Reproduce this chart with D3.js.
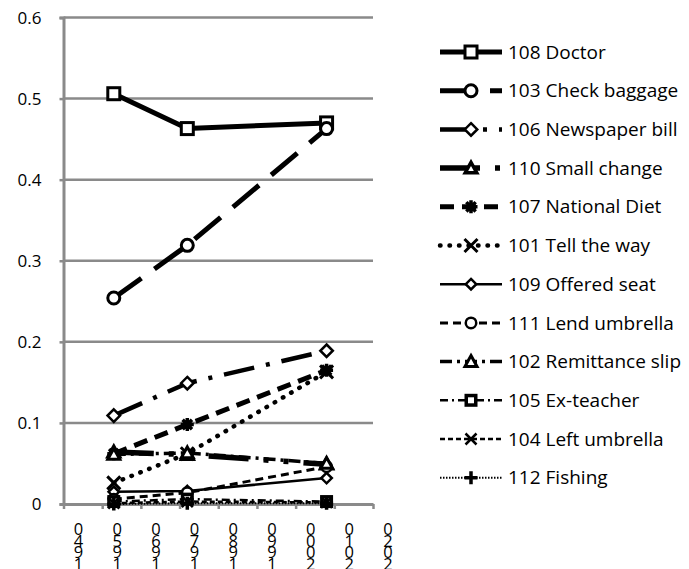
<!DOCTYPE html>
<html>
<head>
<meta charset="utf-8">
<script src="https://cdn.jsdelivr.net/npm/d3@7"></script>
<style>
  html, body { margin: 0; padding: 0; background: #fff; }
  svg { display: block; }
  text { font-family: "Open Sans", "Lato", sans-serif; fill: #000; }
  .year-label { writing-mode: vertical-rl; text-orientation: upright; }
</style>
</head>
<body>
<svg id="chart" width="689" height="569"></svg>
<script>
// Survey years and axis ticks
const years = [1953, 1972, 2008];
const xTickYears = [1940, 1950, 1960, 1970, 1980, 1990, 2000, 2010, 2020];
const yTicks = [0, 0.1, 0.2, 0.3, 0.4, 0.5, 0.6];

// Series labels (legend order = drawing order)
const seriesNames = [
  "108 Doctor", "103 Check baggage", "106 Newspaper bill", "110 Small change",
  "107 National Diet", "101 Tell the way", "109 Offered seat", "111 Lend umbrella",
  "102 Remittance slip", "105 Ex-teacher", "104 Left umbrella", "112 Fishing"
];

// Values per series, one per survey year
const doctor        = [0.506, 0.463, 0.470];
const checkBaggage  = [0.254, 0.319, 0.463];
const newspaperBill = [0.109, 0.149, 0.189];
const smallChange   = [0.064, 0.061, 0.049];
const nationalDiet  = [0.062, 0.098, 0.165];
const tellTheWay    = [0.026, 0.062, 0.163];
const offeredSeat   = [0.015, 0.016, 0.032];
const lendUmbrella  = [0.006, 0.014, 0.046];
const remittance    = [0.061, 0.063, 0.050];
const exTeacher     = [0.003, 0.006, 0.003];
const leftUmbrella  = [0.001, 0.003, 0.002];
const fishing       = [0.000, 0.001, 0.001];

const seriesValues = [doctor, checkBaggage, newspaperBill, smallChange, nationalDiet,
  tellTheWay, offeredSeat, lendUmbrella, remittance, exTeacher, leftUmbrella, fishing];

// Line and marker appearance for each series
const looks = [
  { w: 5,   dash: null,                 cap: "butt",  marker: "square",   size: 15, mw: 3 },
  { w: 5,   dash: "34,16",              cap: "butt",  marker: "circle",   size: 15, mw: 3 },
  { w: 4.5, dash: "31,12,4,12",         cap: "butt",  marker: "diamond",  size: 15, mw: 2.5 },
  { w: 5.5, dash: "40,15,5,15,5,15",    cap: "butt",  marker: "triangle", size: 15, mw: 3.5 },
  { w: 5,   dash: "14,8",               cap: "butt",  marker: "asterisk", size: 15, mw: 3.5 },
  { w: 4.5, dash: "0.5,9",              cap: "round", marker: "x",        size: 15, mw: 3 },
  { w: 2.5, dash: null,                 cap: "butt",  marker: "diamond",  size: 13, mw: 2.5 },
  { w: 3,   dash: "8,5",                cap: "butt",  marker: "circle",   size: 13, mw: 2.5 },
  { w: 3.5, dash: "12,5,3,5",           cap: "butt",  marker: "triangle", size: 15, mw: 3 },
  { w: 2.5, dash: "8,4,2,4",            cap: "butt",  marker: "square",   size: 13, mw: 3.5 },
  { w: 2.5, dash: "5,3",                cap: "butt",  marker: "x",        size: 13, mw: 2.5 },
  { w: 2,   dash: "1.5,1.5",            cap: "butt",  marker: "plus",     size: 15, mw: 3.5 }
];

const series = seriesNames.map((name, i) => ({
  name,
  look: looks[i],
  points: years.map((yr, j) => ({ year: yr, value: seriesValues[i][j] }))
}));

const svg = d3.select("#chart");
const plot = { left: 63.5, right: 373, top: 17.5, bottom: 504 };
const gridColor = "#8a8a8a";

const x = d3.scaleLinear().domain([1940, 2020]).range([plot.left, plot.right]);
const y = d3.scaleLinear().domain([0, 0.6]).range([plot.bottom, plot.top]);

// Horizontal gridlines
svg.append("g")
  .selectAll("line")
  .data(yTicks.filter(t => t > 0))
  .join("line")
  .attr("x1", plot.left).attr("x2", plot.right)
  .attr("y1", d => y(d)).attr("y2", d => y(d))
  .attr("stroke", gridColor).attr("stroke-width", 2.5);

// Y axis
const yAxis = svg.append("g")
  .attr("transform", `translate(${plot.left},0)`)
  .call(d3.axisLeft(y).tickValues(yTicks).tickSize(4).tickPadding(18).tickFormat(d3.format("")));
yAxis.select(".domain").attr("stroke", gridColor).attr("stroke-width", 3);
yAxis.selectAll(".tick line").attr("stroke", gridColor).attr("stroke-width", 2.5);
yAxis.selectAll(".tick text")
  .attr("font-size", 17)
  .attr("font-family", "Open Sans")
  .attr("dy", "0.35em");

// X axis
const xAxis = svg.append("g")
  .attr("transform", `translate(0,${plot.bottom})`)
  .call(d3.axisBottom(x).tickValues(xTickYears).tickSize(5).tickSizeOuter(0).tickFormat(""));
xAxis.select(".domain").attr("stroke", gridColor).attr("stroke-width", 3);
xAxis.selectAll(".tick line").attr("stroke", gridColor).attr("stroke-width", 2.5);

// Year labels: upright digits running down the page, last digit on top
const xLabels = svg.append("g");
xTickYears.forEach(yr => {
  const t = xLabels.append("text")
    .attr("class", "year-label")
    .attr("x", x(yr) + 15)
    .attr("y", 517)
    .attr("font-size", 16.5)
    .text(String(yr).split("").reverse().join(""));
  // tighten the vertical pitch of the stacked digits to about 11.7px
  const n = String(yr).length;
  const h = t.node().getBBox().height;
  const spacing = (11.7 * n - h) / n;
  t.style("letter-spacing", `${spacing}px`);
});

// Marker drawing
function drawMarker(g, type, cx, cy, size, mw) {
  const h = size / 2;
  const stroke = "#000";
  if (type === "square") {
    g.append("rect").attr("x", cx - h + mw / 2).attr("y", cy - h + mw / 2)
      .attr("width", size - mw).attr("height", size - mw)
      .attr("fill", "#fff").attr("stroke", stroke).attr("stroke-width", mw);
  } else if (type === "circle") {
    g.append("circle").attr("cx", cx).attr("cy", cy).attr("r", h - mw / 2)
      .attr("fill", "#fff").attr("stroke", stroke).attr("stroke-width", mw);
  } else if (type === "diamond") {
    const r = h - mw / 2;
    g.append("path").attr("d", `M${cx},${cy - r}L${cx + r},${cy}L${cx},${cy + r}L${cx - r},${cy}Z`)
      .attr("fill", "#fff").attr("stroke", stroke).attr("stroke-width", mw);
  } else if (type === "triangle") {
    const r = h - mw / 2;
    g.append("path").attr("d", `M${cx},${cy - r}L${cx + r},${cy + r * 0.8}L${cx - r},${cy + r * 0.8}Z`)
      .attr("fill", "#fff").attr("stroke", stroke).attr("stroke-width", mw)
      .attr("stroke-linejoin", "miter");
  } else if (type === "x") {
    const r = h - 1;
    g.append("path").attr("d", `M${cx - r},${cy - r}L${cx + r},${cy + r}M${cx + r},${cy - r}L${cx - r},${cy + r}`)
      .attr("stroke", stroke).attr("stroke-width", mw).attr("fill", "none");
  } else if (type === "plus") {
    const r = h - 1;
    g.append("path").attr("d", `M${cx - r},${cy}L${cx + r},${cy}M${cx},${cy - r}L${cx},${cy + r}`)
      .attr("stroke", stroke).attr("stroke-width", mw).attr("fill", "none");
  } else if (type === "asterisk") {
    const r = h - 1;
    const d = r * 0.72;
    g.append("path").attr("d",
      `M${cx - r},${cy}L${cx + r},${cy}M${cx},${cy - r}L${cx},${cy + r}` +
      `M${cx - d},${cy - d}L${cx + d},${cy + d}M${cx + d},${cy - d}L${cx - d},${cy + d}`)
      .attr("stroke", stroke).attr("stroke-width", mw).attr("fill", "none");
  }
}

const line = d3.line().x(d => x(d.year)).y(d => y(d.value));

// Series lines and markers
const seriesG = svg.append("g");
series.forEach(s => {
  const g = seriesG.append("g");
  g.append("path")
    .datum(s.points)
    .attr("d", line)
    .attr("fill", "none")
    .attr("stroke", "#000")
    .attr("stroke-width", s.look.w)
    .attr("stroke-dasharray", s.look.dash)
    .attr("stroke-linecap", s.look.cap)
    .attr("stroke-linejoin", "round");
  s.points.forEach(p => drawMarker(g, s.look.marker, x(p.year), y(p.value), s.look.size, s.look.mw));
});

// Legend
const legend = svg.append("g");
const legendTop = 52, legendStep = 38.7;
series.forEach((s, i) => {
  const cy = legendTop + i * legendStep;
  const g = legend.append("g");
  g.append("line")
    .attr("x1", 440).attr("x2", 502).attr("y1", cy).attr("y2", cy)
    .attr("stroke", "#000")
    .attr("stroke-width", s.look.w)
    .attr("stroke-dasharray", s.look.dash)
    .attr("stroke-linecap", s.look.cap);
  drawMarker(g, s.look.marker, 471, cy, s.look.size, s.look.mw);
  g.append("text")
    .attr("x", 508).attr("y", cy + 6.6)
    .attr("font-size", 19)
    .text(s.name);
});
</script>
</body>
</html>
